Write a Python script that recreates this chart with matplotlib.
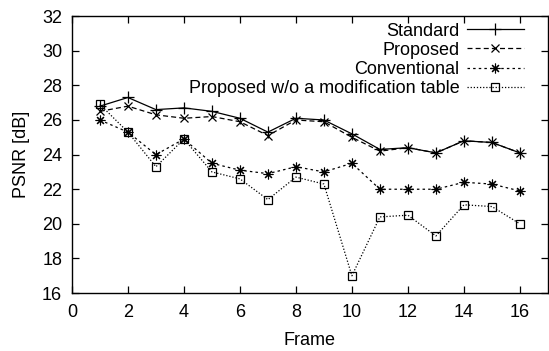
import numpy as np
import matplotlib
matplotlib.use("Agg")
import matplotlib.pyplot as plt

plt.rcParams['font.family'] = ['Liberation Sans', 'DejaVu Sans']

frames = np.arange(1, 17)
standard = [26.8, 27.3, 26.6, 26.7, 26.5, 26.1, 25.3, 26.1, 26.0, 25.2, 24.3, 24.4, 24.1, 24.8, 24.7, 24.1]
proposed = [26.5, 26.8, 26.3, 26.1, 26.2, 25.9, 25.1, 26.0, 25.9, 25.0, 24.2, 24.4, 24.1, 24.8, 24.7, 24.1]
conventional = [26.0, 25.3, 24.0, 24.9, 23.5, 23.1, 22.9, 23.3, 23.0, 23.5, 22.0, 22.0, 22.0, 22.4, 22.3, 21.9]
wo_table = [26.9, 25.3, 23.3, 24.9, 23.0, 22.6, 21.4, 22.7, 22.3, 17.0, 20.4, 20.5, 19.3, 21.1, 21.0, 20.0]

afs = 13

fig = plt.figure(figsize=(5.49, 3.51), dpi=100)
ax = fig.add_axes([0.131, 0.165, 0.867, 0.789])

ax.plot(frames, standard, '-', color='k', lw=0.9, marker='+', ms=8, mew=0.9,
        label='Standard')
ax.plot(frames, proposed, color='k', lw=0.9, ls=(0, (4, 2.5)), marker='x', ms=6, mew=0.9,
        label='Proposed')
ax.plot(frames, conventional, color='k', lw=0.9, ls=(0, (2, 2.5)), marker=(8, 2, 0), ms=7, mew=0.8,
        label='Conventional')
ax.plot(frames, wo_table, color='k', lw=0.9, ls=(0, (1, 1.5)), marker='s', ms=6, mew=0.9,
        mfc='none', label='Proposed w/o a modification table')

ax.set_xlim(0, 17)
ax.set_ylim(16, 32)
ax.set_xticks(np.arange(0, 17, 2))
ax.set_yticks(np.arange(16, 33, 2))
ax.tick_params(direction='in', top=True, right=True, labelsize=afs, length=5, width=0.9)
ax.tick_params(axis='x', pad=8)
ax.tick_params(axis='y', pad=7)
for s in ax.spines.values():
    s.set_linewidth(1.0)
ax.set_xlabel('Frame', size=afs, labelpad=8)
ax.set_ylabel('PSNR [dB]', size=afs, labelpad=9)

ax.legend(loc='upper right', frameon=False, markerfirst=False, fontsize=afs,
          handlelength=3.2, labelspacing=0.12, borderaxespad=0.0, handletextpad=0.4,
          borderpad=0.2, bbox_to_anchor=(0.958, 0.99))

fig.savefig('out.png', dpi=100)
